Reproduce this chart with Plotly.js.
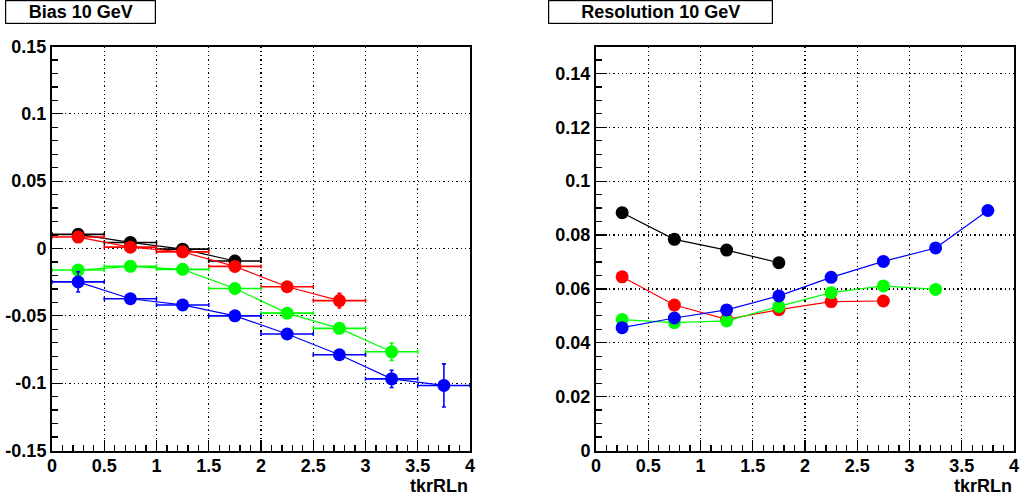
<!DOCTYPE html>
<html>
<head>
<meta charset="utf-8">
<script src="https://cdn.plot.ly/plotly-3.0.1.min.js"></script>
<style>html,body{margin:0;padding:0;background:#fff;}#chart{width:1020px;height:495px;}</style>
</head>
<body>
<div id="chart"></div>
<script>
// ---------- data ----------
const xCenters = [0.25, 0.75, 1.25, 1.75, 2.25, 2.75, 3.25, 3.75];
const xHalfWidth = 0.25;

// Bias 10 GeV
const biasBlack = [0.0105, 0.0045, -0.0005, -0.0093];
const biasRed   = [0.0085, 0.0010, -0.0025, -0.0133, -0.0284, -0.0387];
const biasGreen = [-0.0160, -0.0132, -0.0155, -0.0297, -0.0480, -0.0593, -0.0767];
const biasBlue  = [-0.0248, -0.0373, -0.0419, -0.0500, -0.0635, -0.0789, -0.0968, -0.1017];
const biasBlackErr = [0.0012, 0.0012, 0.0015, 0.0020];
const biasRedErr   = [0.0012, 0.0012, 0.0015, 0.0020, 0.0025, 0.0055];
const biasGreenErr = [0.0015, 0.0015, 0.0015, 0.0020, 0.0025, 0.0030, 0.0065];
const biasBlueErr  = [0.0075, 0.0020, 0.0020, 0.0020, 0.0025, 0.0030, 0.0064, 0.0160];

// Resolution 10 GeV
const resBlack = [0.0883, 0.0784, 0.0744, 0.0697];
const resRed   = [0.0645, 0.0540, 0.0487, 0.0523, 0.0553, 0.0555];
const resGreen = [0.0486, 0.0475, 0.0481, 0.0535, 0.0586, 0.0611, 0.0598];
const resBlue  = [0.0456, 0.0492, 0.0522, 0.0574, 0.0643, 0.0702, 0.0752, 0.0891];

const seriesColors = ['#000000', '#ff0000', '#00ff00', '#0000ff'];

const xTickVals = [0, 0.5, 1, 1.5, 2, 2.5, 3, 3.5, 4];
const xTickText = ['0', '0.5', '1', '1.5', '2', '2.5', '3', '3.5', '4'];
const biasTickVals = [-0.15, -0.1, -0.05, 0, 0.05, 0.1, 0.15];
const biasTickText = ['-0.15', '-0.1', '-0.05', '0', '0.05', '0.1', '0.15'];
const resTickVals = [0, 0.02, 0.04, 0.06, 0.08, 0.1, 0.12, 0.14];
const resTickText = ['0', '0.02', '0.04', '0.06', '0.08', '0.1', '0.12', '0.14'];

const titleLeft = 'Bias 10 GeV';
const titleRight = 'Resolution 10 GeV';
const xTitle = 'tkrRLn';

// ---------- traces ----------
const FONT = 'Liberation Sans, Arial, Helvetica, sans-serif';
const traces = [];
function biasTrace(vals, errs, color) {
  const n = vals.length;
  return {
    type: 'scatter', mode: 'lines+markers', xaxis: 'x', yaxis: 'y',
    x: xCenters.slice(0, n), y: vals,
    line: {color: color, width: 1.2},
    marker: {color: color, size: 13, symbol: 'circle'},
    error_x: {type: 'data', array: new Array(n).fill(xHalfWidth), color: color, thickness: 1.6, width: 2},
    error_y: {type: 'data', array: errs, color: color, thickness: 1.6, width: 2},
    showlegend: false, hoverinfo: 'x+y'
  };
}
function resTrace(vals, color) {
  const n = vals.length;
  return {
    type: 'scatter', mode: 'lines+markers', xaxis: 'x2', yaxis: 'y2',
    x: xCenters.slice(0, n), y: vals,
    line: {color: color, width: 1.2},
    marker: {color: color, size: 13, symbol: 'circle'},
    showlegend: false, hoverinfo: 'x+y'
  };
}
traces.push(biasTrace(biasBlack, biasBlackErr, seriesColors[0]));
traces.push(biasTrace(biasRed, biasRedErr, seriesColors[1]));
traces.push(biasTrace(biasGreen, biasGreenErr, seriesColors[2]));
traces.push(biasTrace(biasBlue, biasBlueErr, seriesColors[3]));
traces.push(resTrace(resBlack, seriesColors[0]));
traces.push(resTrace(resRed, seriesColors[1]));
traces.push(resTrace(resGreen, seriesColors[2]));
traces.push(resTrace(resBlue, seriesColors[3]));

// ---------- layout ----------
const W = 1020, H = 495;
const tickFont = {family: FONT, size: 18, color: '#000', weight: 'bold'};
function xAxis(domain, anchor) {
  return {
    domain: domain, anchor: anchor, range: [0, 4],
    tickvals: xTickVals, ticktext: xTickText,
    ticks: 'inside', ticklen: 11, tickwidth: 1.3, tickcolor: '#000',
    minor: {dtick: 0.1, ticks: 'inside', ticklen: 6, tickwidth: 1.3, tickcolor: '#000', showgrid: false},
    showgrid: true, gridcolor: '#000', gridwidth: 1.3, griddash: '1.3px,3px',
    showline: true, linecolor: '#000', linewidth: 2, mirror: true,
    zeroline: false, tickfont: tickFont, fixedrange: true, ticklabelstandoff: -2
  };
}
function yAxis(domain, anchor, range, tv, tt, minorDt) {
  return {
    domain: domain, anchor: anchor, range: range,
    tickvals: tv, ticktext: tt,
    ticks: 'inside', ticklen: 11, tickwidth: 1.3, tickcolor: '#000',
    minor: {dtick: minorDt, ticks: 'inside', ticklen: 6, tickwidth: 1.3, tickcolor: '#000', showgrid: false},
    showgrid: true, gridcolor: '#000', gridwidth: 1.3, griddash: '1.3px,3px',
    showline: true, linecolor: '#000', linewidth: 2, mirror: true,
    zeroline: false, tickfont: tickFont, fixedrange: true
  };
}
const yDom = [(H - 450.5) / H, (H - 46.5) / H];
const layout = {
  width: W, height: H,
  margin: {l: 0, r: 0, t: 0, b: 0},
  paper_bgcolor: '#fff', plot_bgcolor: '#fff',
  font: {family: FONT, color: '#000'},
  xaxis: xAxis([52 / W, 470 / W], 'y'),
  yaxis: yAxis(yDom, 'x', [-0.15, 0.15], biasTickVals, biasTickText, 0.01),
  xaxis2: xAxis([596 / W, 1014 / W], 'y2'),
  yaxis2: yAxis(yDom, 'x2', [0, 0.15], resTickVals, resTickText, 0.005),
  annotations: [
    {text: titleLeft, xref: 'paper', yref: 'paper', x: 80.5 / W, y: 1 - 11.5 / H,
     xanchor: 'center', yanchor: 'middle', showarrow: false,
     font: {family: FONT, size: 18, color: '#000', weight: 'bold'},
     bordercolor: '#000', borderwidth: 1.2, borderpad: 1, bgcolor: '#fff', width: 147, height: 20},
    {text: titleRight, xref: 'paper', yref: 'paper', x: 660.5 / W, y: 1 - 11.5 / H,
     xanchor: 'center', yanchor: 'middle', showarrow: false,
     font: {family: FONT, size: 18, color: '#000', weight: 'bold'},
     bordercolor: '#000', borderwidth: 1.2, borderpad: 1, bgcolor: '#fff', width: 221, height: 20},
    {text: xTitle, xref: 'paper', yref: 'paper', x: 470 / W, y: 1 - 486 / H,
     xanchor: 'right', yanchor: 'middle', showarrow: false,
     font: {family: FONT, size: 18, color: '#000', weight: 'bold'}},
    {text: xTitle, xref: 'paper', yref: 'paper', x: 1014 / W, y: 1 - 486 / H,
     xanchor: 'right', yanchor: 'middle', showarrow: false,
     font: {family: FONT, size: 18, color: '#000', weight: 'bold'}}
  ]
};
Plotly.newPlot('chart', traces, layout, {displayModeBar: false, staticPlot: true});
</script>
</body>
</html>
